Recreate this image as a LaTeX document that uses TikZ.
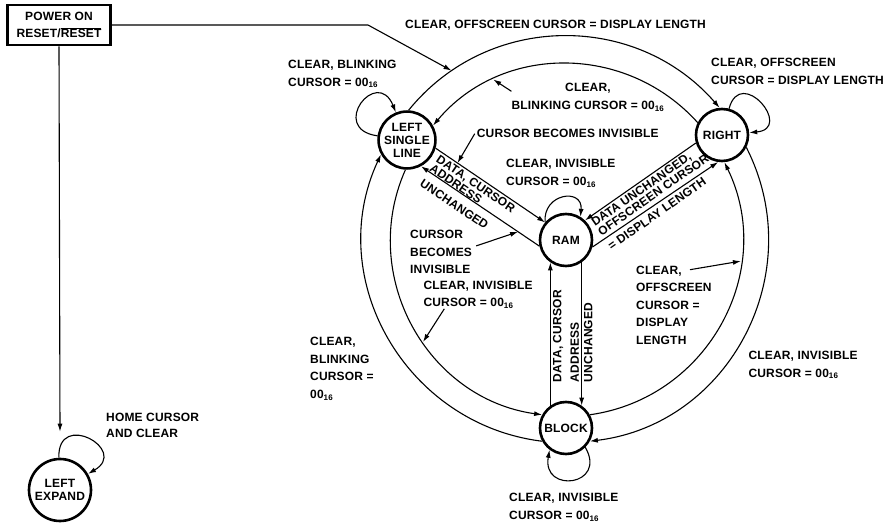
\documentclass[tikz,border=0pt]{standalone}
\usepackage{fontspec}
\setmainfont{Liberation Sans}[LetterSpace=1.5]
\usepackage{tikz}
\usetikzlibrary{arrows.meta}
\newcommand{\lblfont}{\fontsize{12}{17.5}\selectfont\bfseries}
\newcommand{\modefont}{\fontsize{12}{13}\selectfont\bfseries}
\newcommand{\inlfont}{\fontsize{12}{11.5}\selectfont\bfseries}
\newcommand{\hexzero}{00\textsubscript{16}}

\begin{document}
\begin{tikzpicture}[x=1pt, y=1pt,
    modenode/.style={draw, circle, line width=2.6pt, minimum size=52pt, inner sep=0pt, align=center, font=\modefont},
    transarrow/.style={-{Latex[length=8pt,width=5pt]}, line width=1.1pt},
    lbl/.style={inner sep=0pt, align=left, anchor=north west, font=\lblfont},
    inl/.style={sloped, inner xsep=0pt, inner ysep=2pt, align=left, anchor=north west, font=\inlfont}]
    \useasboundingbox (0,0) rectangle (895,525);

    \node[draw, line width=2.8pt, minimum width=103pt, minimum height=40pt, inner sep=0pt, align=center, font=\fontsize{12}{17}\selectfont\bfseries] (power) at (59,500) {POWER ON\\RESET/$\overline{\mbox{RESET}}$};
    \node[modenode, minimum size=62pt] (expand) at (60,35) {LEFT\\EXPAND};
    \node[modenode] (leftline) at (407,385) {LEFT\\SINGLE\\LINE};
    \node[modenode] (rightend) at (722,390) {RIGHT};
    \node[modenode] (ram) at (566,285) {RAM};
    \node[modenode] (block) at (566,97) {BLOCK};

    \draw[transarrow] (leftline.87) to[out=51, in=131, looseness=1.04] coordinate[pos=0.16] (join) (rightend.95);
    \draw[transarrow] (rightend.153) to[out=132, in=50, looseness=1.03] coordinate[pos=0.75] (pblink) (leftline.29);
    \draw[transarrow] (rightend.-27) to[out=-63, in=7, looseness=1.08] (block.-29);
    \draw[transarrow] (block.29) to[out=8, in=-64, looseness=1.07] coordinate[pos=0.7] (poff) (rightend.-85);
    \draw[transarrow] (block.209) to[out=173, in=245, looseness=1.07] (leftline.209);
    \draw[transarrow] (leftline.267) to[out=246, in=172, looseness=1.06] coordinate[pos=0.56] (pinv) (block.151);

    \draw[transarrow] (leftline) to[out=172, in=112, min distance=50pt] (leftline);
    \draw[transarrow] (rightend) to[out=75, in=5, min distance=45pt] (rightend);
    \draw[transarrow] (ram.140) to[out=95, in=85, looseness=2.1] (ram.58);
    \draw[transarrow] (block.-45) to[out=-60, in=-100, looseness=3.2] (block.-127);
    \draw[transarrow] (expand) to[out=92, in=30, min distance=48pt] (expand);

    \draw[transarrow] (leftline.-16) -- coordinate[pos=0.2] (pbec) node[inl, pos=0.05] {DATA, CURSOR\\ADDRESS\\[6pt]UNCHANGED} (ram.140);
    \draw[transarrow] (ram.193) -- coordinate[pos=0.18] (pbec2) (leftline.-62);
    \draw[transarrow] (rightend.197) -- node[inl, pos=0.97] {DATA UNCHANGED,\\OFFSCREEN CURSOR\\[6pt]= DISPLAY LENGTH} (ram.46);
    \draw[transarrow] (ram.-15) -- (rightend.262);
    \draw[transarrow] (block.125) -- node[inl, allow upside down, pos=0.16] {DATA, CURSOR\\[6pt]ADDRESS\\[2pt]UNCHANGED} (ram.235);
    \draw[transarrow] (ram.-55) -- (block.55);

    \node[lbl] (becomes) at (476.7,395.7) {CURSOR BECOMES INVISIBLE};
    \draw[transarrow] ([xshift=-2pt]becomes.west) -- (pbec);
    \node[lbl] (becomes2) at (410,295) {CURSOR\\BECOMES\\INVISIBLE};
    \draw[transarrow] ([shift={(4pt,6pt)}]becomes2.east) -- (pbec2);
    \node[lbl, align=center, anchor=north] (blink) at (588,441.7) {CLEAR,\\BLINKING CURSOR = \hexzero};
    \draw[transarrow] ([yshift=-8pt]blink.north west) -- (pblink);
    \node[lbl] (clrinv) at (423.3,244.3) {CLEAR, INVISIBLE\\CURSOR = \hexzero};
    \draw[transarrow] ([xshift=21pt]clrinv.south west) -- (pinv);
    \node[lbl] (clroff) at (636,259.3) {CLEAR,\\OFFSCREEN\\CURSOR =\\DISPLAY\\LENGTH};
    \draw[transarrow] ([shift={(54pt,-4pt)}]clroff.north west) -- (poff);

    \node[lbl] (topclr) at (405,505) {CLEAR, OFFSCREEN CURSOR = DISPLAY LENGTH};
    \node[lbl] (leftloop) at (288,465) {CLEAR, BLINKING\\CURSOR = \hexzero};
    \node[lbl] (rightloop) at (711,466.7) {CLEAR, OFFSCREEN\\CURSOR = DISPLAY LENGTH};
    \node[lbl] (ramloop) at (506,365.7) {CLEAR, INVISIBLE\\CURSOR = \hexzero};
    \node[lbl] (blockloop) at (509,31.7) {CLEAR, INVISIBLE\\CURSOR = \hexzero};
    \node[lbl] (outright) at (748.3,174) {CLEAR, INVISIBLE\\CURSOR = \hexzero};
    \node[lbl] (outleft) at (310,187.7) {CLEAR,\\BLINKING\\CURSOR =\\\hexzero};
    \node[lbl] (home) at (106,111.7) {HOME CURSOR\\[-2pt]AND CLEAR};

    \coordinate (bend) at (368,500);
    \coordinate (loopin) at ([yshift=26pt]expand.north);
    \draw[transarrow] (power.east) -- (bend) -- (join);
    \draw[transarrow] (power.south) -- (loopin);
\end{tikzpicture}
\end{document}
